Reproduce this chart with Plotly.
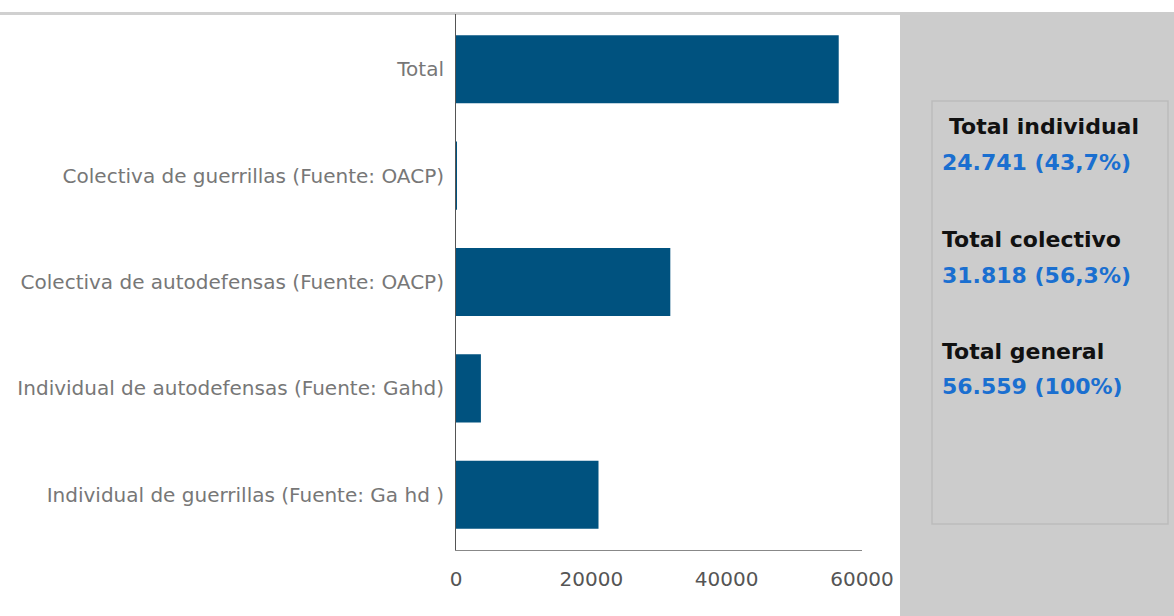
import plotly.graph_objects as go

categories = [
    "Individual de guerrillas (Fuente: Ga hd )",
    "Individual de autodefensas (Fuente: Gahd)",
    "Colectiva de autodefensas (Fuente: OACP)",
    "Colectiva de guerrillas (Fuente: OACP)",
    "Total",
]
values = [21059, 3682, 31671, 147, 56559]
x_ticks = [0, 20000, 40000, 60000]

summary_titles = ["Total individual", "Total colectivo", "Total general"]
summary_values = ["24.741 (43,7%)", "31.818 (56,3%)", "56.559 (100%)"]

W, H = 1174, 616
L, R, T, B = 456, 862, 14, 550
FONT = "DejaVu Sans, Liberation Sans, Arial"


def px(x):
    return (x - L) / (R - L)


def py(y):
    return (B - y) / (B - T)


fig = go.Figure(
    go.Bar(
        y=categories,
        x=values,
        orientation="h",
        marker=dict(color="#00527f", line=dict(width=0)),
        width=0.64,
    )
)

shapes = [
    dict(type="rect", xref="paper", yref="paper", x0=px(900), x1=px(1174), y0=py(616), y1=py(12),
         fillcolor="#cccccc", line=dict(width=0), layer="below"),
    dict(type="rect", xref="paper", yref="paper", x0=px(0), x1=px(900), y0=py(15), y1=py(12),
         fillcolor="#d0d0d0", line=dict(width=0), layer="below"),
    dict(type="rect", xref="paper", yref="paper", x0=px(932), x1=px(1168), y0=py(524), y1=py(101),
         fillcolor="#cccccc", line=dict(width=1.5, color="#bcbcbc"), layer="below"),
]

annotations = []
title_y = [127, 239, 351]
value_y = [162, 275, 387]
title_x = [947, 940, 940]
for t, v, ty, vy, tx in zip(summary_titles, summary_values, title_y, value_y, title_x):
    annotations.append(dict(xref="paper", yref="paper", x=px(tx), y=py(ty), text="<b>%s</b>" % t,
                            showarrow=False, xanchor="left", yanchor="middle",
                            font=dict(family=FONT, size=22, color="#111111")))
    annotations.append(dict(xref="paper", yref="paper", x=px(940), y=py(vy), text="<b>%s</b>" % v,
                            showarrow=False, xanchor="left", yanchor="middle",
                            font=dict(family=FONT, size=22, color="#1a6fd0")))

fig.update_layout(
    width=W, height=H,
    margin=dict(l=L, r=W - R, t=T, b=H - B, pad=0),
    paper_bgcolor="white", plot_bgcolor="white",
    showlegend=False,
    shapes=shapes,
    annotations=annotations,
    font=dict(family=FONT, size=16, color="#666666"),
)
fig.update_xaxes(range=[0, 60000], tickvals=x_ticks, ticktext=[str(v) for v in x_ticks],
                 showgrid=False, zeroline=False, showline=True, linecolor="#888888", linewidth=1,
                 ticks="outside", ticklen=11, tickcolor="rgba(0,0,0,0)",
                 tickfont=dict(family=FONT, size=20, color="#555555"))
fig.update_yaxes(range=[-0.52, 4.52], showgrid=False, zeroline=False, showline=True,
                 linecolor="#555555", linewidth=1, ticks="outside", ticklen=7,
                 tickcolor="rgba(0,0,0,0)", tickfont=dict(family=FONT, size=20, color="#777777"))

fig.write_html("out.html")
